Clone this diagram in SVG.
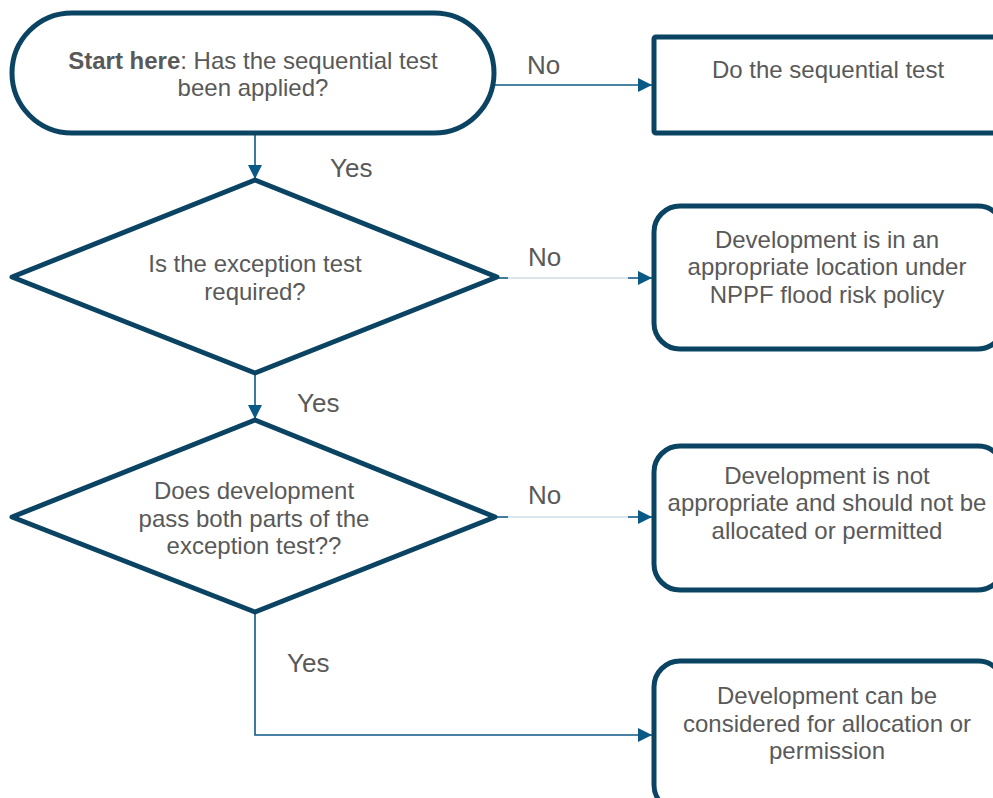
<svg xmlns="http://www.w3.org/2000/svg" width="993" height="798" viewBox="0 0 993 798">
<defs>
<marker id="ah" viewBox="0 0 10 10" refX="10" refY="5" markerWidth="14" markerHeight="14" markerUnits="userSpaceOnUse" orient="auto">
<path d="M0,0 L10,5 L0,10 z" fill="#0b5a86"/>
</marker>
</defs>
<style>
.shape{fill:#fff;stroke:#0b4462;stroke-width:5;stroke-linejoin:round}
.t{font-family:"Liberation Sans",Arial,sans-serif;font-size:24px;fill:#595959;text-anchor:middle}
.lbl{font-family:"Liberation Sans",Arial,sans-serif;font-size:26px;fill:#595959}
.c{fill:none;stroke:#0b5a86;stroke-width:1.6}
.cl{fill:none;stroke:#b9cedb;stroke-width:1.2}
</style>
<rect width="993" height="798" fill="#fff"/>
<g id="connectors">
<path class="c" d="M494,85 L652,85" marker-end="url(#ah)"/>
<path class="c" d="M255,133 L255,179" marker-end="url(#ah)"/>
<path class="cl" d="M497,278 L652,278"/>
<path class="c" d="M497,278 L508,278 M628,278 L652,278" marker-end="url(#ah)"/>
<path class="c" d="M255,373 L255,419" marker-end="url(#ah)"/>
<path class="cl" d="M495,517 L652,517"/>
<path class="c" d="M495,517 L508,517 M628,517 L652,517" marker-end="url(#ah)"/>
<path class="c" d="M255,612 L255,735 L652,735" marker-end="url(#ah)"/>
<text class="lbl" x="527" y="74">No</text>
<text class="lbl" x="330" y="177">Yes</text>
<text class="lbl" x="528" y="266">No</text>
<text class="lbl" x="297" y="412">Yes</text>
<text class="lbl" x="528" y="504">No</text>
<text class="lbl" x="287" y="672">Yes</text>
</g>
<g id="start">
<rect class="shape" x="12" y="13" width="482" height="120" rx="60" ry="60"/>
<text class="t" x="253" y="69"><tspan font-weight="bold">Start here</tspan>: Has the sequential test</text>
<text class="t" x="253" y="96">been applied?</text>
</g>
<g id="do-sequential">
<rect class="shape" x="654" y="37" width="345" height="96" rx="2"/>
<text class="t" x="828" y="78">Do the sequential test</text>
</g>
<g id="exception-required">
<polygon class="shape" points="255,180 497,277 255,373 12,277"/>
<text class="t" x="255" y="272">Is the exception test</text>
<text class="t" x="255" y="300">required?</text>
</g>
<g id="appropriate">
<rect class="shape" x="654" y="206" width="350" height="143" rx="26" ry="26"/>
<text class="t" x="827" y="248">Development is in an</text>
<text class="t" x="827" y="275">appropriate location under</text>
<text class="t" x="827" y="303">NPPF flood risk policy</text>
</g>
<g id="exception-pass">
<polygon class="shape" points="255,420 495,517 255,612 12,517"/>
<text class="t" x="254" y="499">Does development</text>
<text class="t" x="254" y="527">pass both parts of the</text>
<text class="t" x="254" y="554">exception test??</text>
</g>
<g id="not-appropriate">
<rect class="shape" x="654" y="446" width="350" height="144" rx="26" ry="26"/>
<text class="t" x="827" y="484">Development is not</text>
<text class="t" x="827" y="511">appropriate and should not be</text>
<text class="t" x="827" y="539">allocated or permitted</text>
</g>
<g id="considered">
<rect class="shape" x="654" y="661" width="350" height="150" rx="26" ry="26"/>
<text class="t" x="827" y="704" textLength="220" lengthAdjust="spacingAndGlyphs">Development can be</text>
<text class="t" x="827" y="732" textLength="288" lengthAdjust="spacingAndGlyphs">considered for allocation or</text>
<text class="t" x="827" y="759" textLength="116" lengthAdjust="spacingAndGlyphs">permission</text>
</g>
</svg>
